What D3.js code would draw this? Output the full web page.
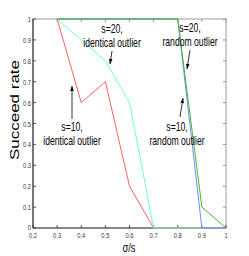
<!DOCTYPE html>
<html>
<head>
<meta charset="utf-8">
<script src="https://cdn.jsdelivr.net/npm/d3@7"></script>
<style>
  body { margin: 0; background: #fff; }
  text { font-family: "Liberation Sans", Arial, sans-serif; }
</style>
</head>
<body>
<script>
let xs = [0.3, 0.4, 0.5, 0.6, 0.7, 0.8, 0.9, 1.0];
let s10Identical = [1, 0.6, 0.7, 0.2, 0, 0, 0, 0];
let s20Identical = [1, 0.9, 0.8, 0.6, 0, 0, 0, 0];
let s10Random = [1, 1, 1, 1, 1, 1, 0, 0];
let s20Random = [1, 1, 1, 1, 1, 1, 0.1, 0];
let xTicks = [0.2, 0.3, 0.4, 0.5, 0.6, 0.7, 0.8, 0.9, 1];
let yTicks = [0, 0.1, 0.2, 0.3, 0.4, 0.5, 0.6, 0.7, 0.8, 0.9, 1];

let width = 249, height = 256;
let padL = 33, padR = 226, padT = 19, padB = 228;
let squeeze = 0.72; // picture is squashed horizontally

let svg = d3.select("body").append("svg")
  .attr("width", width)
  .attr("height", height);

let x = d3.scaleLinear().domain([0.2, 1]).range([padL, padR]);
let y = d3.scaleLinear().domain([0, 1]).range([padB, padT]);

// frame
svg.append("rect")
  .attr("x", padL).attr("y", padT)
  .attr("width", padR - padL).attr("height", padB - padT)
  .attr("fill", "none").attr("stroke", "#999").attr("stroke-width", 1);

// ticks inward on all four sides
let tk = 3;
xTicks.forEach(function(t){
  svg.append("line").attr("x1", x(t)).attr("x2", x(t)).attr("y1", padB).attr("y2", padB - tk).attr("stroke", "#555");
  svg.append("line").attr("x1", x(t)).attr("x2", x(t)).attr("y1", padT).attr("y2", padT + tk).attr("stroke", "#999");
  svg.append("text")
    .attr("transform", "translate(" + x(t) + "," + 238 + ") scale(" + squeeze + ",1)")
    .attr("text-anchor", "middle")
    .attr("font-size", 8)
    .attr("fill", "#333")
    .text(t === 1 ? "1" : t.toFixed(1));
});
yTicks.forEach(function(t){
  svg.append("line").attr("x1", padL).attr("x2", padL + tk).attr("y1", y(t)).attr("y2", y(t)).attr("stroke", "#555");
  svg.append("line").attr("x1", padR).attr("x2", padR - tk).attr("y1", y(t)).attr("y2", y(t)).attr("stroke", "#999");
  svg.append("text")
    .attr("transform", "translate(" + (padL - 2) + "," + (y(t) + (t === 0 ? 1.5 : 3)) + ") scale(" + squeeze + ",1)")
    .attr("text-anchor", "end")
    .attr("font-size", 8)
    .attr("fill", "#333")
    .text(t === 0 || t === 1 ? String(t) : t.toFixed(1));
});

// dark left and bottom axes
svg.append("line").attr("x1", padL).attr("x2", padL).attr("y1", padT).attr("y2", padB).attr("stroke", "#222");
svg.append("line").attr("x1", padL).attr("x2", padR).attr("y1", padB).attr("y2", padB).attr("stroke", "#444");

let line = d3.line()
  .x(function(d){ return x(d[0]); })
  .y(function(d){ return y(d[1]); });

let series = [
  { vals: s10Identical, color: "#ff6060" },
  { vals: s20Identical, color: "#70ffcc" },
  { vals: s10Random, color: "#7088ff" },
  { vals: s20Random, color: "#40b830" }
];

series.forEach(function(s){
  svg.append("path")
    .datum(xs.map(function(v, i){ return [v, s.vals[i]]; }))
    .attr("d", line)
    .attr("fill", "none")
    .attr("stroke", s.color)
    .attr("stroke-width", 1);
});

// axis labels
svg.append("text")
  .attr("transform", "translate(" + 129 + "," + 252 + ") scale(" + squeeze + ",1)")
  .attr("text-anchor", "middle")
  .attr("font-size", 13)
  .text("σ/s");

svg.append("text")
  .attr("transform", "translate(" + 19 + "," + 110 + ") rotate(-90) scale(1," + squeeze + ")")
  .attr("text-anchor", "middle")
  .attr("font-size", 17)
  .text("Succeed rate");

// annotations
let notes = [
  { cx: 112, l1: "s=20,", l2: "identical outlier", y1: 33, y2: 47, ax1: 112, ay1: 51, ax2: 110, ay2: 64 },
  { cx: 72, l1: "s=10,", l2: "identical outlier", y1: 131, y2: 145, ax1: 72, ay1: 119, ax2: 72, ay2: 86 },
  { cx: 190, l1: "s=20,", l2: "random outlier", y1: 32, y2: 46, ax1: 190, ay1: 50, ax2: 187, ay2: 69 },
  { cx: 177, l1: "s=10,", l2: "random outlier", y1: 131, y2: 145, ax1: 180, ay1: 117, ax2: 183, ay2: 98 }
];

notes.forEach(function(n){
  svg.append("text")
    .attr("transform", "translate(" + n.cx + "," + n.y1 + ") scale(" + squeeze + ",1)")
    .attr("text-anchor", "middle").attr("font-size", 12).text(n.l1);
  svg.append("text")
    .attr("transform", "translate(" + n.cx + "," + n.y2 + ") scale(" + squeeze + ",1)")
    .attr("text-anchor", "middle").attr("font-size", 12).text(n.l2);
  svg.append("line")
    .attr("x1", n.ax1).attr("y1", n.ay1).attr("x2", n.ax2).attr("y2", n.ay2)
    .attr("stroke", "#000").attr("stroke-width", 0.8);
  let ang = Math.atan2(n.ay2 - n.ay1, n.ax2 - n.ax1);
  let L = 5, W = 1.8;
  let bx = n.ax2 - L * Math.cos(ang), by = n.ay2 - L * Math.sin(ang);
  let px = -Math.sin(ang) * W, py = Math.cos(ang) * W;
  svg.append("path")
    .attr("d", "M" + n.ax2 + "," + n.ay2 + "L" + (bx + px) + "," + (by + py) + "L" + (bx - px) + "," + (by - py) + "Z")
    .attr("fill", "#000");
});
</script>
</body>
</html>
